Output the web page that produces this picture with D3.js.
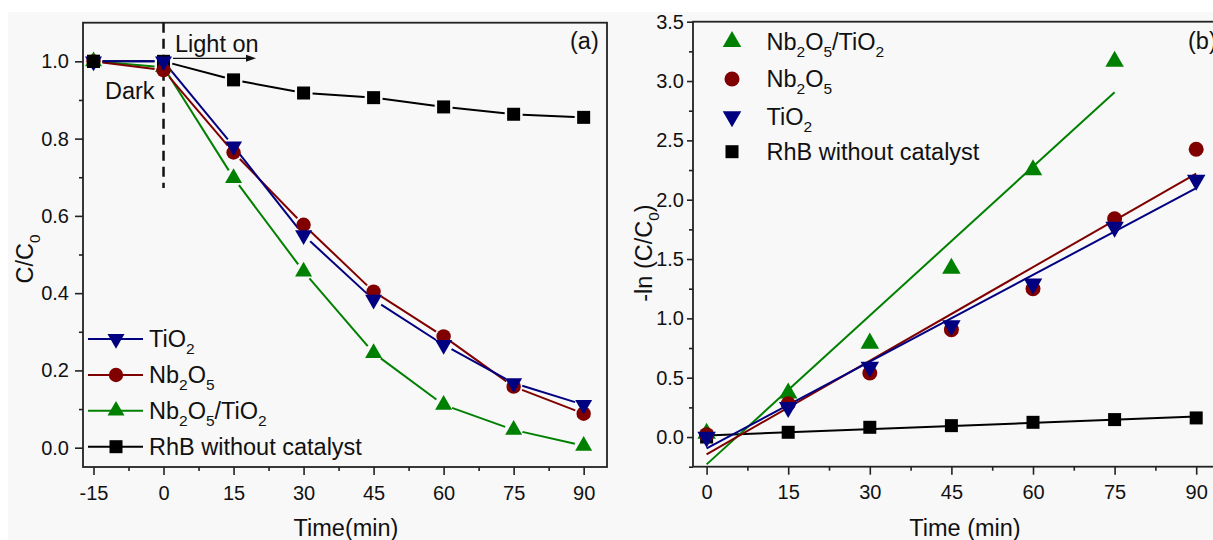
<!DOCTYPE html>
<html>
<head>
<meta charset="utf-8">
<script src="https://cdn.jsdelivr.net/npm/d3@7"></script>
<style>
  html, body { margin: 0; padding: 0; background: #fff; }
  svg { display: block; font-family: "Liberation Sans", Arial, sans-serif; }
</style>
</head>
<body>
<svg id="chart" width="1213" height="540"></svg>
<script>
// ---- Panel (a): normalised concentration vs time ----
const timeA = [-15, 0, 15, 30, 45, 60, 75, 90];
const tio2C = [1.0, 1.0, 0.78, 0.55, 0.383, 0.266, 0.167, 0.111];
const nb2o5C = [1.0, 0.977, 0.764, 0.577, 0.404, 0.288, 0.158, 0.088];
const compositeC = [1.0, 0.985, 0.698, 0.456, 0.245, 0.111, 0.046, 0.005];
const blankC = [1.0, 1.0, 0.952, 0.918, 0.906, 0.882, 0.863, 0.855];

// ---- Panel (b): pseudo-first-order kinetics ----
const timeB = [0, 15, 30, 45, 60, 75, 90];
const compositeK = [0.03, 0.369, 0.79, 1.42, 2.25, 3.165];
const nb2o5K = [0.02, 0.28, 0.54, 0.905, 1.25, 1.84, 2.425];
const tio2K = [0.0, 0.25, 0.59, 0.94, 1.29, 1.77, 2.165];
const blankK = [0.0, 0.04, 0.082, 0.096, 0.124, 0.147, 0.161];

const xTicksA = ["-15", "0", "15", "30", "45", "60", "75", "90"];
const yTicksA = ["0.0", "0.2", "0.4", "0.6", "0.8", "1.0"];
const xTicksB = ["0", "15", "30", "45", "60", "75", "90"];
const yTicksB = ["0.0", "0.5", "1.0", "1.5", "2.0", "2.5", "3.0", "3.5"];

const GREEN = "#008000", RED = "#800000", BLUE = "#000080", BLACK = "#000";
const FS_TICK = 20, FS_TEXT = 23.5;

const svg = d3.select("#chart");
svg.append("rect").attr("x", 0).attr("y", 0).attr("width", 1213).attr("height", 540).attr("fill", "#fff");
svg.append("rect").attr("x", 8).attr("y", 12).attr("width", 1205).attr("height", 528).attr("fill", "#f8f8f8");

// text with chemical subscripts: parts = [[string, isSub], ...]
function richText(sel, parts, fs) {
  let shifted = false;
  parts.forEach(([s, sub]) => {
    const t = sel.append("tspan").text(s);
    if (sub) {
      t.attr("font-size", fs * 0.66).attr("dy", shifted ? 0 : fs * 0.3);
      shifted = true;
    } else {
      t.attr("font-size", fs);
      if (shifted) { t.attr("dy", -fs * 0.3); shifted = false; }
    }
  });
  return sel;
}

const LBL = {
  tio2: [["TiO", false], ["2", true]],
  nb2o5: [["Nb", false], ["2", true], ["O", false], ["5", true]],
  comp: [["Nb", false], ["2", true], ["O", false], ["5", true], ["/TiO", false], ["2", true]],
  blank: [["RhB without catalyst", false]]
};

function marker(g, kind, x, y, color, big) {
  let path;
  if (kind === "square") path = d3.symbol(d3.symbolSquare, 13 * 13)();
  else if (kind === "circle") path = d3.symbol(d3.symbolCircle, Math.PI * Math.pow(big ? 7.5 : 7.2, 2))();
  else {
    const side = big ? 18.5 : 17;
    path = d3.symbol(d3.symbolTriangle, Math.sqrt(3) / 4 * side * side)();
  }
  return g.append("path").attr("d", path).attr("fill", color)
    .attr("transform", `translate(${x},${y})` + (kind === "down" ? " rotate(180)" : ""));
}

function drawAxes(g, x, y, opt) {
  const [x0, x1] = x.range(), [y0, y1] = y.range();
  const style = sel => {
    sel.select(".domain").remove();
    sel.selectAll("line").attr("stroke", "#222").attr("stroke-width", 1.6);
    sel.selectAll("text").attr("font-size", FS_TICK).attr("fill", "#111").attr("font-family", null);
  };
  // x ticks (labels kept as written, with a plain hyphen for negatives)
  g.append("g").attr("transform", `translate(0,${y0})`)
    .call(d3.axisBottom(x).tickValues(opt.xTicks.map(Number)).tickSize(opt.xTick).tickPadding(opt.xPad)
      .tickFormat((d, i) => opt.xTicks[i]))
    .call(style);
  g.append("g").attr("transform", `translate(0,${y0})`)
    .call(d3.axisBottom(x).tickValues(opt.xMinor).tickSize(4).tickFormat(""))
    .call(style);
  // y ticks
  g.append("g").attr("transform", `translate(${x0},0)`)
    .call(d3.axisLeft(y).tickValues(opt.yTicks.map(Number)).tickSize(opt.yTick).tickPadding(opt.yPad)
      .tickFormat((d, i) => opt.yTicks[i]))
    .call(style);
  g.append("g").attr("transform", `translate(${x0},0)`)
    .call(d3.axisLeft(y).tickValues(opt.yMinor).tickSize(4).tickFormat(""))
    .call(style);
  // frame
  g.append("rect").attr("x", x0).attr("y", y1).attr("width", x1 - x0).attr("height", y0 - y1)
    .attr("fill", "none").attr("stroke", "#222").attr("stroke-width", 1.8);
}

// ================= Panel (a) =================
const xA = d3.scaleLinear().domain([-17.25, 95]).range([83, 607]);
const yA = d3.scaleLinear().domain([-0.05, 1.1]).range([467, 22.7]);
const gA = svg.append("g");

drawAxes(gA, xA, yA, {
  xTicks: xTicksA, xMinor: d3.range(-7.5, 95, 15), xTick: 8, xPad: 11,
  yTicks: yTicksA, yMinor: [0.1, 0.3, 0.5, 0.7, 0.9], yTick: 8, yPad: 6
});

// Dark / light boundary
gA.append("line").attr("x1", xA(0)).attr("x2", xA(0)).attr("y1", yA(1.1)).attr("y2", 188)
  .attr("stroke", "#111").attr("stroke-width", 2.5).attr("stroke-dasharray", "10,6");
gA.append("text").attr("x", 105).attr("y", 99).attr("font-size", FS_TEXT).attr("fill", "#111").text("Dark");
gA.append("text").attr("x", 175).attr("y", 51.5).attr("font-size", FS_TEXT).attr("fill", "#111").text("Light on");
gA.append("line").attr("x1", 173).attr("x2", 248).attr("y1", 58.3).attr("y2", 58.3).attr("stroke", "#111").attr("stroke-width", 1.2);
gA.append("path").attr("d", "M256,58.3 L246,54.8 L246,61.8 Z").attr("fill", "#111");
gA.append("text").attr("x", 570).attr("y", 48.5).attr("font-size", FS_TEXT).attr("fill", "#111").text("(a)");

// connecting lines that stop short of each symbol
function gappedLine(g, xs, ys, color, gap) {
  for (let i = 0; i < xs.length - 1; i++) {
    const ax = xA(xs[i]), ay = yA(ys[i]), bx = xA(xs[i + 1]), by = yA(ys[i + 1]);
    const dx = bx - ax, dy = by - ay, L = Math.hypot(dx, dy);
    if (L <= 2 * gap) continue;
    const ux = dx / L, uy = dy / L;
    g.append("line")
      .attr("x1", ax + ux * gap).attr("y1", ay + uy * gap)
      .attr("x2", bx - ux * gap).attr("y2", by - uy * gap)
      .attr("stroke", color).attr("stroke-width", 2);
  }
}

const seriesA = [
  { vals: blankC, color: BLACK, kind: "square" },
  { vals: compositeC, color: GREEN, kind: "up" },
  { vals: nb2o5C, color: RED, kind: "circle" },
  { vals: tio2C, color: BLUE, kind: "down" }
];
seriesA.forEach(s => gappedLine(gA, timeA, s.vals, s.color, 9));
seriesA.forEach(s => timeA.forEach((t, i) => marker(gA, s.kind, xA(t), yA(s.vals[i]), s.color, false)));
// the untreated solution's starting symbol sits on top of the others
marker(gA, "square", xA(timeA[0]), yA(blankC[0]), BLACK, false);

// legend (a)
const legA = [
  { lbl: LBL.tio2, color: BLUE, kind: "down", y: 339 },
  { lbl: LBL.nb2o5, color: RED, kind: "circle", y: 375 },
  { lbl: LBL.comp, color: GREEN, kind: "up", y: 410.7 },
  { lbl: LBL.blank, color: BLACK, kind: "square", y: 446.7 }
];
legA.forEach(d => {
  gA.append("line").attr("x1", 88).attr("x2", 143).attr("y1", d.y).attr("y2", d.y).attr("stroke", d.color).attr("stroke-width", 2);
  marker(gA, d.kind, 116, d.y, d.color, false);
  richText(gA.append("text").attr("x", 149).attr("y", d.y + 8.3).attr("fill", "#111"), d.lbl, FS_TEXT);
});

// axis titles (a)
richText(gA.append("text").attr("transform", "translate(33,259) rotate(-90)").attr("text-anchor", "middle").attr("fill", "#111"),
  [["C/C", false], ["0", true]], FS_TEXT);
gA.append("text").attr("x", 346).attr("y", 536).attr("text-anchor", "middle").attr("font-size", FS_TEXT).attr("fill", "#111").text("Time(min)");

// ================= Panel (b) =================
const xB = d3.scaleLinear().domain([-2.5, 97.5]).range([693, 1237]);
const yB = d3.scaleLinear().domain([-0.25, 3.5]).range([466.7, 21.7]);
const gB = svg.append("g");

drawAxes(gB, xB, yB, {
  xTicks: xTicksB, xMinor: d3.range(7.5, 97, 15), xTick: 8, xPad: 10,
  yTicks: yTicksB, yMinor: d3.range(-0.25, 3.5, 0.5), yTick: 6, yPad: 3
});

gB.append("text").attr("x", 1188).attr("y", 48.5).attr("font-size", FS_TEXT).attr("fill", "#111").text("(b)");

// least-squares line through the kinetic points
function fit(ts, vs) {
  const n = vs.length, t = ts.slice(0, n);
  const mt = d3.mean(t), mv = d3.mean(vs);
  const sxy = d3.sum(t, (ti, i) => (ti - mt) * (vs[i] - mv));
  const sxx = d3.sum(t, ti => (ti - mt) * (ti - mt));
  const k = sxy / sxx;
  return { k, b: mv - k * mt, t0: t[0], t1: t[n - 1] };
}

gB.append("clipPath").attr("id", "clipB").append("rect")
  .attr("x", 693).attr("y", 21.7).attr("width", 544).attr("height", 445);

const seriesB = [
  { vals: blankK, color: BLACK, kind: "square" },
  { vals: compositeK, color: GREEN, kind: "up" },
  { vals: nb2o5K, color: RED, kind: "circle" },
  { vals: tio2K, color: BLUE, kind: "down" }
];
const fitLayer = gB.append("g").attr("clip-path", "url(#clipB)");
seriesB.forEach(s => {
  const f = fit(timeB, s.vals);
  fitLayer.append("line")
    .attr("x1", xB(f.t0)).attr("y1", yB(f.b + f.k * f.t0))
    .attr("x2", xB(f.t1)).attr("y2", yB(f.b + f.k * f.t1))
    .attr("stroke", s.color).attr("stroke-width", 2);
});
seriesB.forEach(s => s.vals.forEach((v, i) => marker(gB, s.kind, xB(timeB[i]), yB(v), s.color, true)));

// legend (b)
const legB = [
  { lbl: LBL.comp, color: GREEN, kind: "up", y: 41.7 },
  { lbl: LBL.nb2o5, color: RED, kind: "circle", y: 79 },
  { lbl: LBL.tio2, color: BLUE, kind: "down", y: 116.5 },
  { lbl: LBL.blank, color: BLACK, kind: "square", y: 151.7 }
];
legB.forEach(d => {
  marker(gB, d.kind, 732, d.y, d.color, true);
  richText(gB.append("text").attr("x", 766.5).attr("y", d.y + 8.3).attr("fill", "#111"), d.lbl, FS_TEXT);
});

// axis titles (b)
richText(gB.append("text").attr("transform", "translate(652,253) rotate(-90)").attr("text-anchor", "middle").attr("fill", "#111"),
  [["-ln (C/C", false], ["0", true], [")", false]], FS_TEXT);
gB.append("text").attr("x", 965).attr("y", 536).attr("text-anchor", "middle").attr("font-size", FS_TEXT).attr("fill", "#111").text("Time (min)");
</script>
</body>
</html>
